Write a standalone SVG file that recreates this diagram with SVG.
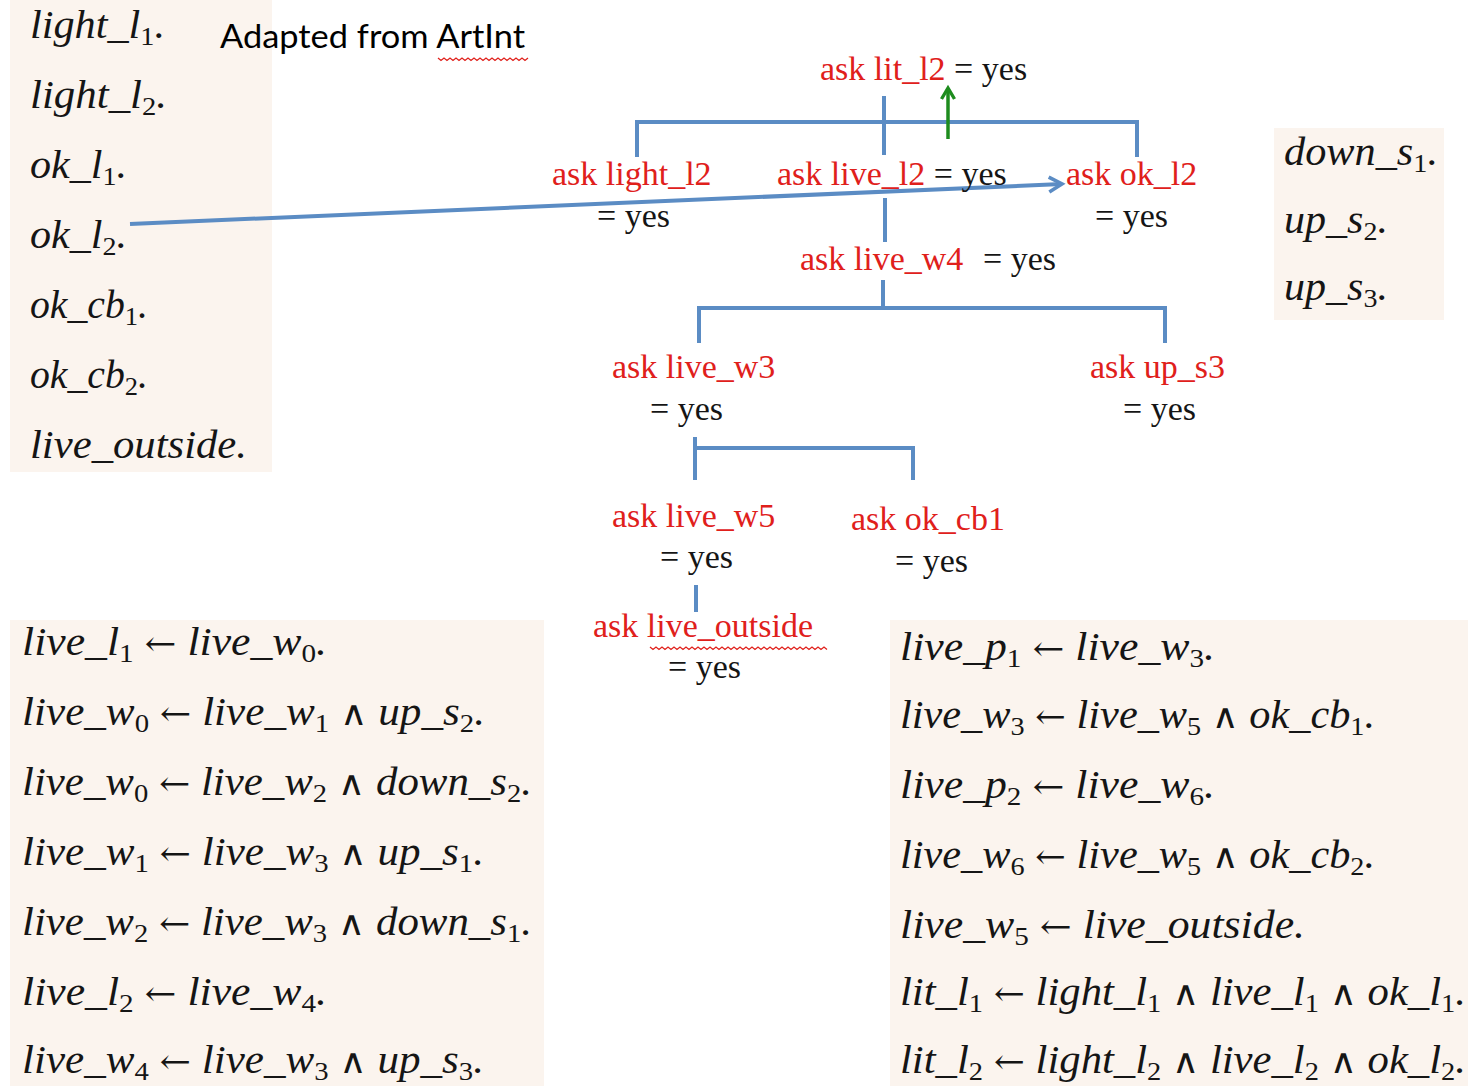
<svg xmlns="http://www.w3.org/2000/svg" width="1468" height="1086" viewBox="0 0 1468 1086">
<style>
.panel{fill:#FBF4EE}
.m{font-family:"Liberation Serif","DejaVu Serif",serif;font-style:italic;font-size:39px;fill:#151515}
.sb{font-size:26px;font-style:normal}
.up{font-style:normal;font-family:"DejaVu Serif",serif;font-size:34px}
.t{font-family:"Liberation Serif","DejaVu Serif",serif;font-size:34px}
.r{fill:#E0201B}
.k{fill:#151515}
.ln{stroke:#5B8CC4;stroke-width:4;fill:none}
.wavy{stroke:#E0201B;stroke-width:1.3;fill:none}
.title{font-family:Lato,"Liberation Sans",sans-serif;font-size:32px;fill:#000}
</style>
<defs>
<marker id="ab" markerWidth="20" markerHeight="20" refX="16" refY="10" orient="auto" markerUnits="userSpaceOnUse" viewBox="0 0 20 20">
<path d="M3,2.5 L16,10 L3,17.5" fill="none" stroke="#5B8CC4" stroke-width="3.6" stroke-linejoin="miter"/>
</marker>
<marker id="ag" markerWidth="18" markerHeight="18" refX="14" refY="9" orient="auto" markerUnits="userSpaceOnUse" viewBox="0 0 18 18">
<path d="M3,2.5 L14,9 L3,15.5" fill="none" stroke="#1E8C1E" stroke-width="3.4" stroke-linejoin="miter"/>
</marker>
</defs>
<rect width="1468" height="1086" fill="#fff"/>

<g id="facts-left">
<rect class="panel" x="10" y="0" width="262" height="472"/>
<text class="m" x="30" y="38" textLength="135" lengthAdjust="spacingAndGlyphs">light_l<tspan class="sb" dy="7">1</tspan><tspan dy="-7">.</tspan></text>
<text class="m" x="30" y="108" textLength="137" lengthAdjust="spacingAndGlyphs">light_l<tspan class="sb" dy="7">2</tspan><tspan dy="-7">.</tspan></text>
<text class="m" x="30" y="178" textLength="97" lengthAdjust="spacingAndGlyphs">ok_l<tspan class="sb" dy="7">1</tspan><tspan dy="-7">.</tspan></text>
<text class="m" x="30" y="248" textLength="97" lengthAdjust="spacingAndGlyphs">ok_l<tspan class="sb" dy="7">2</tspan><tspan dy="-7">.</tspan></text>
<text class="m" x="30" y="318" textLength="118" lengthAdjust="spacingAndGlyphs">ok_cb<tspan class="sb" dy="7">1</tspan><tspan dy="-7">.</tspan></text>
<text class="m" x="30" y="388" textLength="118" lengthAdjust="spacingAndGlyphs">ok_cb<tspan class="sb" dy="7">2</tspan><tspan dy="-7">.</tspan></text>
<text class="m" x="30" y="458" textLength="217" lengthAdjust="spacingAndGlyphs">live_outside.</text>
</g>

<g id="title">
<text class="title" x="220" y="48" textLength="305" lengthAdjust="spacingAndGlyphs">Adapted from ArtInt</text>
<path class="wavy" d="M438,58 l3,2.5 l3,-2.5 l3,2.5 l3,-2.5 l3,2.5 l3,-2.5 l3,2.5 l3,-2.5 l3,2.5 l3,-2.5 l3,2.5 l3,-2.5 l3,2.5 l3,-2.5 l3,2.5 l3,-2.5 l3,2.5 l3,-2.5 l3,2.5 l3,-2.5 l3,2.5 l3,-2.5 l3,2.5 l3,-2.5 l3,2.5 l3,-2.5 l3,2.5 l3,-2.5 l3,2.5 l3,-2.5"/>
</g>

<g id="facts-right">
<rect class="panel" x="1274" y="128" width="170" height="192"/>
<text class="m" x="1284" y="165" textLength="154" lengthAdjust="spacingAndGlyphs">down_s<tspan class="sb" dy="7">1</tspan><tspan dy="-7">.</tspan></text>
<text class="m" x="1284" y="233" textLength="104" lengthAdjust="spacingAndGlyphs">up_s<tspan class="sb" dy="7">2</tspan><tspan dy="-7">.</tspan></text>
<text class="m" x="1284" y="300" textLength="104" lengthAdjust="spacingAndGlyphs">up_s<tspan class="sb" dy="7">3</tspan><tspan dy="-7">.</tspan></text>
</g>

<g id="rules-left">
<rect class="panel" x="10" y="620" width="534" height="466"/>
<text class="m" x="22" y="655" textLength="305" lengthAdjust="spacingAndGlyphs">live_l<tspan class="sb" dy="7">1</tspan><tspan dy="-7"> </tspan><tspan class="up">←</tspan> live_w<tspan class="sb" dy="7">0</tspan><tspan dy="-7">.</tspan></text>
<text class="m" x="22" y="725" textLength="463" lengthAdjust="spacingAndGlyphs">live_w<tspan class="sb" dy="7">0</tspan><tspan dy="-7"> </tspan><tspan class="up">←</tspan> live_w<tspan class="sb" dy="7">1</tspan><tspan dy="-7"> </tspan><tspan class="up">∧</tspan> up_s<tspan class="sb" dy="7">2</tspan><tspan dy="-7">.</tspan></text>
<text class="m" x="22" y="795" textLength="510" lengthAdjust="spacingAndGlyphs">live_w<tspan class="sb" dy="7">0</tspan><tspan dy="-7"> </tspan><tspan class="up">←</tspan> live_w<tspan class="sb" dy="7">2</tspan><tspan dy="-7"> </tspan><tspan class="up">∧</tspan> down_s<tspan class="sb" dy="7">2</tspan><tspan dy="-7">.</tspan></text>
<text class="m" x="22" y="865" textLength="462" lengthAdjust="spacingAndGlyphs">live_w<tspan class="sb" dy="7">1</tspan><tspan dy="-7"> </tspan><tspan class="up">←</tspan> live_w<tspan class="sb" dy="7">3</tspan><tspan dy="-7"> </tspan><tspan class="up">∧</tspan> up_s<tspan class="sb" dy="7">1</tspan><tspan dy="-7">.</tspan></text>
<text class="m" x="22" y="935" textLength="510" lengthAdjust="spacingAndGlyphs">live_w<tspan class="sb" dy="7">2</tspan><tspan dy="-7"> </tspan><tspan class="up">←</tspan> live_w<tspan class="sb" dy="7">3</tspan><tspan dy="-7"> </tspan><tspan class="up">∧</tspan> down_s<tspan class="sb" dy="7">1</tspan><tspan dy="-7">.</tspan></text>
<text class="m" x="22" y="1005" textLength="305" lengthAdjust="spacingAndGlyphs">live_l<tspan class="sb" dy="7">2</tspan><tspan dy="-7"> </tspan><tspan class="up">←</tspan> live_w<tspan class="sb" dy="7">4</tspan><tspan dy="-7">.</tspan></text>
<text class="m" x="22" y="1073" textLength="462" lengthAdjust="spacingAndGlyphs">live_w<tspan class="sb" dy="7">4</tspan><tspan dy="-7"> </tspan><tspan class="up">←</tspan> live_w<tspan class="sb" dy="7">3</tspan><tspan dy="-7"> </tspan><tspan class="up">∧</tspan> up_s<tspan class="sb" dy="7">3</tspan><tspan dy="-7">.</tspan></text>
</g>

<g id="rules-right">
<rect class="panel" x="890" y="620" width="578" height="466"/>
<text class="m" x="900" y="660" textLength="315" lengthAdjust="spacingAndGlyphs">live_p<tspan class="sb" dy="7">1</tspan><tspan dy="-7"> </tspan><tspan class="up">←</tspan> live_w<tspan class="sb" dy="7">3</tspan><tspan dy="-7">.</tspan></text>
<text class="m" x="900" y="728" textLength="475" lengthAdjust="spacingAndGlyphs">live_w<tspan class="sb" dy="7">3</tspan><tspan dy="-7"> </tspan><tspan class="up">←</tspan> live_w<tspan class="sb" dy="7">5</tspan><tspan dy="-7"> </tspan><tspan class="up">∧</tspan> ok_cb<tspan class="sb" dy="7">1</tspan><tspan dy="-7">.</tspan></text>
<text class="m" x="900" y="798" textLength="315" lengthAdjust="spacingAndGlyphs">live_p<tspan class="sb" dy="7">2</tspan><tspan dy="-7"> </tspan><tspan class="up">←</tspan> live_w<tspan class="sb" dy="7">6</tspan><tspan dy="-7">.</tspan></text>
<text class="m" x="900" y="868" textLength="475" lengthAdjust="spacingAndGlyphs">live_w<tspan class="sb" dy="7">6</tspan><tspan dy="-7"> </tspan><tspan class="up">←</tspan> live_w<tspan class="sb" dy="7">5</tspan><tspan dy="-7"> </tspan><tspan class="up">∧</tspan> ok_cb<tspan class="sb" dy="7">2</tspan><tspan dy="-7">.</tspan></text>
<text class="m" x="900" y="938" textLength="405" lengthAdjust="spacingAndGlyphs">live_w<tspan class="sb" dy="7">5</tspan><tspan dy="-7"> </tspan><tspan class="up">←</tspan> live_outside.</text>
<text class="m" x="900" y="1005" textLength="566" lengthAdjust="spacingAndGlyphs">lit_l<tspan class="sb" dy="7">1</tspan><tspan dy="-7"> </tspan><tspan class="up">←</tspan> light_l<tspan class="sb" dy="7">1</tspan><tspan dy="-7"> </tspan><tspan class="up">∧</tspan> live_l<tspan class="sb" dy="7">1</tspan><tspan dy="-7"> </tspan><tspan class="up">∧</tspan> ok_l<tspan class="sb" dy="7">1</tspan><tspan dy="-7">.</tspan></text>
<text class="m" x="900" y="1073" textLength="566" lengthAdjust="spacingAndGlyphs">lit_l<tspan class="sb" dy="7">2</tspan><tspan dy="-7"> </tspan><tspan class="up">←</tspan> light_l<tspan class="sb" dy="7">2</tspan><tspan dy="-7"> </tspan><tspan class="up">∧</tspan> live_l<tspan class="sb" dy="7">2</tspan><tspan dy="-7"> </tspan><tspan class="up">∧</tspan> ok_l<tspan class="sb" dy="7">2</tspan><tspan dy="-7">.</tspan></text>
</g>

<g id="connectors">
<path class="ln" d="M884,96 V155"/>
<path class="ln" d="M637,157 V122 H1137 V157"/>
<path class="ln" d="M885,198 V242"/>
<path class="ln" d="M883,280 V308"/>
<path class="ln" d="M699,343 V308 H1165 V343"/>
<path class="ln" d="M695,437 V480"/>
<path class="ln" d="M695,448 H913 V480"/>
<path class="ln" d="M696,585 V612"/>
<path class="ln" d="M130,224 L1062,184" marker-end="url(#ab)"/>
<path d="M948,139 V88" stroke="#1E8C1E" stroke-width="3.5" fill="none" marker-end="url(#ag)"/>
</g>

<g id="n-lit-l2"><text class="t" x="820" y="80"><tspan class="r">ask lit_l2</tspan><tspan class="k"> = yes</tspan></text></g>
<g id="n-light-l2"><text class="t r" x="552" y="185">ask light_l2</text><text class="t k" x="597" y="227">= yes</text></g>
<g id="n-live-l2"><text class="t" x="777" y="185"><tspan class="r">ask live_l2</tspan><tspan class="k"> = yes</tspan></text></g>
<g id="n-ok-l2"><text class="t r" x="1066" y="185">ask ok_l2</text><text class="t k" x="1095" y="227">= yes</text></g>
<g id="n-live-w4"><text class="t r" x="800" y="270">ask live_w4</text><text class="t k" x="983" y="270">= yes</text></g>
<g id="n-live-w3"><text class="t r" x="612" y="378">ask live_w3</text><text class="t k" x="650" y="420">= yes</text></g>
<g id="n-up-s3"><text class="t r" x="1090" y="378">ask up_s3</text><text class="t k" x="1123" y="420">= yes</text></g>
<g id="n-live-w5"><text class="t r" x="612" y="527">ask live_w5</text><text class="t k" x="660" y="568">= yes</text></g>
<g id="n-ok-cb1"><text class="t r" x="851" y="530">ask ok_cb1</text><text class="t k" x="895" y="572">= yes</text></g>
<g id="n-live-outside"><text class="t r" x="593" y="637">ask live_outside</text><text class="t k" x="668" y="678">= yes</text>
<path class="wavy" d="M650,647 l3,2.5 l3,-2.5 l3,2.5 l3,-2.5 l3,2.5 l3,-2.5 l3,2.5 l3,-2.5 l3,2.5 l3,-2.5 l3,2.5 l3,-2.5 l3,2.5 l3,-2.5 l3,2.5 l3,-2.5 l3,2.5 l3,-2.5 l3,2.5 l3,-2.5 l3,2.5 l3,-2.5 l3,2.5 l3,-2.5 l3,2.5 l3,-2.5 l3,2.5 l3,-2.5 l3,2.5 l3,-2.5 l3,2.5 l3,-2.5 l3,2.5 l3,-2.5 l3,2.5 l3,-2.5 l3,2.5 l3,-2.5 l3,2.5 l3,-2.5 l3,2.5 l3,-2.5 l3,2.5 l3,-2.5 l3,2.5 l3,-2.5 l3,2.5 l3,-2.5 l3,2.5 l3,-2.5 l3,2.5 l3,-2.5 l3,2.5 l3,-2.5 l3,2.5 l3,-2.5 l3,2.5 l3,-2.5 l3,2.5"/>
</g>
</svg>
